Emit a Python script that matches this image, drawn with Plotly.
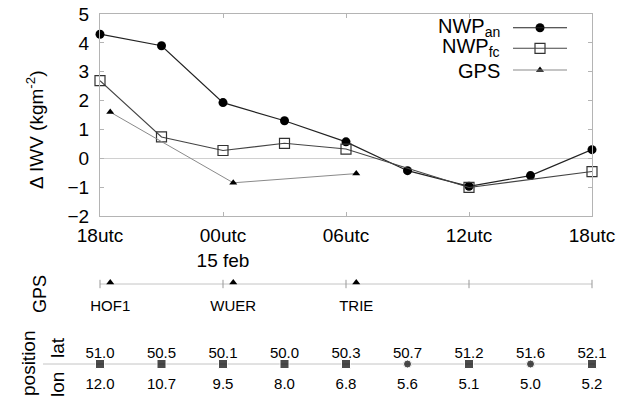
import plotly.graph_objects as go

# window is 629x400; the page body has an 8px margin, so the figure is 621x392
OFF = 8
W, H = 629 - OFF, 400 - OFF

# ---------------- data ----------------
hour_labels = ["18utc", "00utc<br>15 feb", "06utc", "12utc", "18utc"]
hour_ticks = [0, 6, 12, 18, 24]

hours = [0, 3, 6, 9, 12, 15, 18, 21, 24]
nwp_an = [4.30, 3.90, 1.93, 1.30, 0.57, -0.43, -0.97, -0.60, 0.30]

fc_hours = [0, 3, 6, 9, 12, 18, 24]
nwp_fc = [2.69, 0.74, 0.27, 0.52, 0.32, -1.01, -0.46]

gps_hours = [0.5, 6.5, 12.5]
gps_vals = [1.60, -0.85, -0.53]
gps_stations = ["HOF1", "WUER", "TRIE"]

lat = [51.0, 50.5, 50.1, 50.0, 50.3, 50.7, 51.2, 51.6, 52.1]
lon = [12.0, 10.7, 9.5, 8.0, 6.8, 5.6, 5.1, 5.0, 5.2]

# ---------------- helpers (window pixel -> figure coords) ----------------
def px(x):
    return (x - OFF) / W

def py(y):
    return 1 - (y - OFF) / H

STRIP_TOP = 260

def sy(y):  # strip axis value: window pixels above the window bottom
    return 400 - y

FONT = "Liberation Sans, Arial, sans-serif"
FRAME = "#b4b4b4"

fig = go.Figure()

# ---------------- main panel ----------------
fig.add_trace(go.Scatter(x=hours, y=nwp_an, mode="lines+markers",
                         line=dict(color="#222222", width=1.2),
                         marker=dict(symbol="circle", size=9, color="black"),
                         cliponaxis=False, showlegend=False))
fig.add_trace(go.Scatter(x=fc_hours, y=nwp_fc, mode="lines+markers",
                         line=dict(color="#444444", width=1.1),
                         marker=dict(symbol="square-open", size=10, color="#333333",
                                     line=dict(width=1.2)),
                         cliponaxis=False, showlegend=False))
fig.add_trace(go.Scatter(x=gps_hours, y=gps_vals, mode="lines+markers",
                         line=dict(color="#8a8a8a", width=1),
                         marker=dict(symbol="triangle-up", size=7, color="black"),
                         cliponaxis=False, showlegend=False))

# ---------------- GPS strip ----------------
gps_line_y = sy(284)
fig.add_trace(go.Scatter(x=[hour_ticks[0], hour_ticks[-1]], y=[gps_line_y, gps_line_y],
                         mode="lines", line=dict(color="#c4c4c4", width=1),
                         xaxis="x3", yaxis="y3", showlegend=False, hoverinfo="skip"))
fig.add_trace(go.Scatter(x=hour_ticks, y=[gps_line_y] * len(hour_ticks), mode="markers",
                         marker=dict(symbol="line-ns", size=6,
                                     line=dict(color="#999999", width=1)),
                         xaxis="x3", yaxis="y3", cliponaxis=False, showlegend=False))
fig.add_trace(go.Scatter(x=gps_hours, y=[sy(282.5)] * len(gps_hours), mode="markers",
                         marker=dict(symbol="triangle-up", size=7, color="black"),
                         xaxis="x3", yaxis="y3", cliponaxis=False, showlegend=False))
fig.add_trace(go.Scatter(x=gps_hours, y=[sy(307)] * len(gps_hours), mode="text",
                         text=gps_stations, textposition="middle center",
                         textfont=dict(family=FONT, size=15, color="black"),
                         xaxis="x3", yaxis="y3", cliponaxis=False, showlegend=False))

# ---------------- position strip ----------------
pos_y = sy(364)
fc_set = set(fc_hours)
sym = ["square" if h in fc_set else "circle" for h in hours]
size = [9 if h in fc_set else 8 for h in hours]
fig.add_trace(go.Scatter(x=hours, y=[pos_y] * len(hours), mode="markers",
                         marker=dict(symbol=sym, size=size, color="black"),
                         xaxis="x3", yaxis="y3", cliponaxis=False, showlegend=False))
fig.add_trace(go.Scatter(x=hours, y=[sy(354)] * len(hours), mode="text",
                         text=[f"{v:.1f}" for v in lat], textposition="middle center",
                         textfont=dict(family=FONT, size=15, color="black"),
                         xaxis="x3", yaxis="y3", cliponaxis=False, showlegend=False))
fig.add_trace(go.Scatter(x=hours, y=[sy(385)] * len(hours), mode="text",
                         text=[f"{v:.1f}" for v in lon], textposition="middle center",
                         textfont=dict(family=FONT, size=15, color="black"),
                         xaxis="x3", yaxis="y3", cliponaxis=False, showlegend=False))

shapes = [dict(type="line", xref="paper", yref="y3", x0=px(43), x1=px(595),
               y0=pos_y, y1=pos_y, line=dict(color="#c4c4c4", width=1), layer="below")]

# ---------------- legend (custom, text left of sample) ----------------
legend_rows = [
    ("NWP<sub>an</sub>", 27.7, dict(symbol="circle", size=9, color="black"), "#222222"),
    ("NWP<sub>fc</sub>", 48.3, dict(symbol="square-open", size=10, color="#333333",
                                     line=dict(width=1.2)), "#444444"),
    ("GPS", 70, dict(symbol="triangle-up", size=7, color="black"), "#8a8a8a"),
]
annotations = []
for txt, yrow, mk, lc in legend_rows:
    shapes.append(dict(type="line", xref="paper", yref="paper", x0=px(513), x1=px(567),
                       y0=py(yrow), y1=py(yrow), line=dict(color=lc, width=1.1)))
    fig.add_trace(go.Scatter(x=[540], y=[yrow], mode="markers", marker=mk,
                             xaxis="x4", yaxis="y4", cliponaxis=False, showlegend=False))
    annotations.append(dict(text=txt, xref="paper", yref="paper", x=px(502),
                            y=py(yrow - 0.5 if "sub" in txt else yrow + 1),
                            xanchor="right", yanchor="middle", showarrow=False,
                            font=dict(family=FONT, size=20, color="black")))

# rotated labels
annotations += [
    dict(text="Δ IWV (kgm<sup>-2</sup>)", xref="paper", yref="paper", x=px(35), y=py(130),
         textangle=-90, showarrow=False, xanchor="center", yanchor="middle",
         font=dict(family=FONT, size=19, color="black")),
    dict(text="GPS", xref="paper", yref="paper", x=px(40), y=py(294),
         textangle=-90, showarrow=False, xanchor="center", yanchor="middle",
         font=dict(family=FONT, size=18, color="black")),
    dict(text="position", xref="paper", yref="paper", x=px(28), y=py(363),
         textangle=-90, showarrow=False, xanchor="center", yanchor="middle",
         font=dict(family=FONT, size=19, color="black")),
    dict(text="lat", xref="paper", yref="paper", x=px(57), y=py(348),
         textangle=-90, showarrow=False, xanchor="center", yanchor="middle",
         font=dict(family=FONT, size=19, color="black")),
    dict(text="lon", xref="paper", yref="paper", x=px(57), y=py(385),
         textangle=-90, showarrow=False, xanchor="center", yanchor="middle",
         font=dict(family=FONT, size=19, color="black")),
]

xdom = [px(100), px(592)]
hidden = dict(visible=False, automargin=False, showgrid=False, zeroline=False)
fig.update_layout(
    template="none",
    width=W, height=H, margin=dict(l=0, r=0, t=0, b=0, pad=0, autoexpand=False),
    paper_bgcolor="white", plot_bgcolor="rgba(0,0,0,0)",
    font=dict(family=FONT, size=17, color="black"),
    showlegend=False,
    xaxis=dict(domain=xdom, range=[0, 24], tickvals=hour_ticks, ticktext=hour_labels,
               showline=True, linecolor=FRAME, linewidth=1, mirror="ticks",
               ticks="inside", ticklen=4, tickcolor=FRAME, showgrid=False,
               zeroline=False, anchor="y", automargin=False, tickfont=dict(size=19),
               ticklabelstandoff=2, ticklabeloverflow="allow"),
    yaxis=dict(domain=[py(216), py(14)], range=[-2, 5], dtick=1,
               showline=True, linecolor=FRAME, linewidth=1, mirror="ticks",
               ticks="inside", ticklen=4, tickcolor=FRAME, showgrid=False,
               zeroline=True, zerolinecolor="#d0d0d0", zerolinewidth=1,
               anchor="x", automargin=False, tickfont=dict(size=19),
               ticklabelstandoff=6, ticklabeloverflow="allow"),
    xaxis3=dict(domain=xdom, range=[0, 24], anchor="y3", **hidden),
    yaxis3=dict(domain=[0, py(STRIP_TOP)], range=[sy(400), sy(STRIP_TOP)],
                anchor="x3", **hidden),
    xaxis4=dict(domain=[0, 1], range=[OFF, 629], anchor="y4", **hidden),
    yaxis4=dict(domain=[0, 1], range=[400, OFF], anchor="x4", **hidden),
    shapes=shapes, annotations=annotations,
)

fig.write_html("out.html")
